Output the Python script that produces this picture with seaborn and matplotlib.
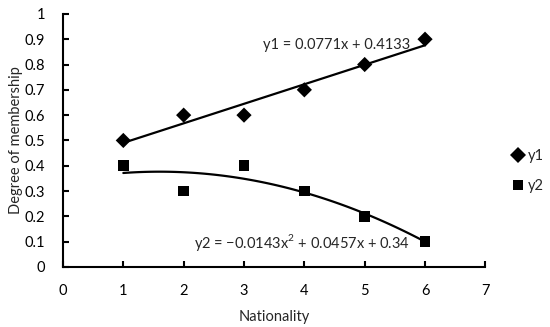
import pandas as pd
import seaborn as sns
import matplotlib.pyplot as plt

# Data
nationality = [1, 2, 3, 4, 5, 6]
y1 = [0.5, 0.6, 0.6, 0.7, 0.8, 0.9]
y2 = [0.4, 0.3, 0.4, 0.3, 0.2, 0.1]
eq1 = "y1 = 0.0771x + 0.4133"
eq2 = "y2 = \u22120.0143x$^2$ + 0.0457x + 0.34"

df = pd.DataFrame({
    "Nationality": nationality * 2,
    "value": y1 + y2,
    "series": ["y1"] * 6 + ["y2"] * 6,
})

sns.set_style("white")
plt.rcParams["font.family"] = ["Lato", "DejaVu Sans"]
plt.rcParams["mathtext.fontset"] = "custom"
plt.rcParams["mathtext.rm"] = "Lato"

fig = plt.figure(figsize=(5.5, 3.27), dpi=100)
ax = fig.add_axes([0.1145, 0.1835, 0.768, 0.774])

sns.scatterplot(data=df, x="Nationality", y="value", hue="series", style="series",
                markers={"y1": "D", "y2": "s"}, palette={"y1": "black", "y2": "black"},
                s=60, edgecolor="black", linewidth=0, ax=ax, zorder=3)

# trendlines: linear for y1, 2nd order polynomial for y2
sns.regplot(x=nationality, y=y1, scatter=False, ci=None, color="black",
            line_kws={"lw": 1.6}, ax=ax)
sns.regplot(x=nationality, y=y2, order=2, scatter=False, ci=None, color="black",
            line_kws={"lw": 1.6}, ax=ax)

ax.text(5.75, 0.877, eq1, fontsize=10.5, ha="right", va="center")
ax.text(5.75, 0.095, eq2, fontsize=10.5, ha="right", va="center")

ax.set_xlim(0, 7)
ax.set_ylim(0, 1)
ax.set_xticks(range(0, 8))
ax.set_yticks([i / 10 for i in range(11)])
ax.set_yticklabels(["0", "0.1", "0.2", "0.3", "0.4", "0.5", "0.6", "0.7", "0.8", "0.9", "1"])
ax.tick_params(direction="in", length=4, width=1.5, labelsize=10.5, colors="black",
               left=True, bottom=True)
ax.tick_params(axis="y", pad=13)
ax.tick_params(axis="x", pad=12)
for side in ["top", "right"]:
    ax.spines[side].set_visible(False)
for side in ["left", "bottom"]:
    ax.spines[side].set_color("black")
    ax.spines[side].set_linewidth(1.5)

ax.set_xlabel("Nationality", fontsize=10.5, labelpad=9)
ax.set_ylabel("Degree of membership", fontsize=10.5, labelpad=1)

leg = ax.legend(loc="center left", bbox_to_anchor=(1.036, 0.38), frameon=False,
                fontsize=10.5, handlelength=1.0, handletextpad=0.2,
                labelspacing=1.1, borderaxespad=0.3)

fig.savefig("out.png", dpi=100)
